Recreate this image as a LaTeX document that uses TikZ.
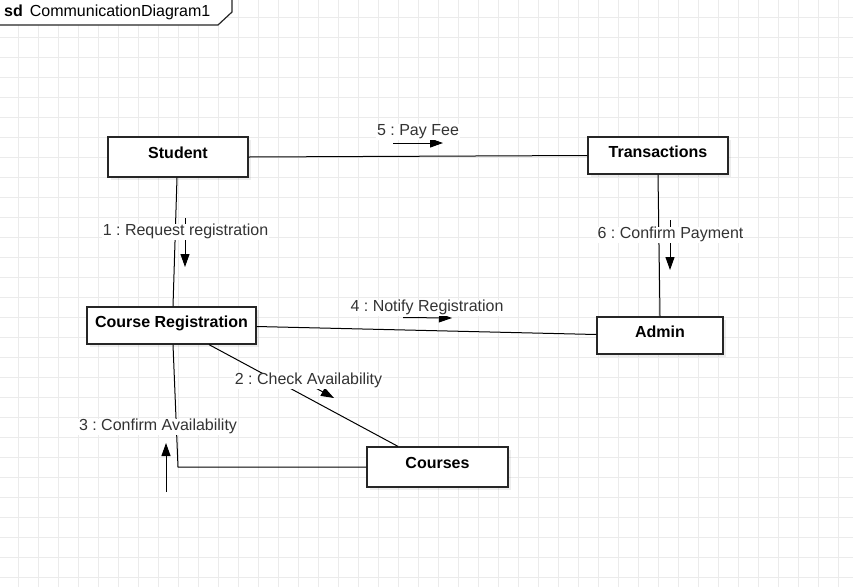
\documentclass[tikz,border=0pt]{standalone}
\usepackage{fontspec}
\setmainfont{Liberation Sans}
\usetikzlibrary{arrows.meta,positioning,shadows}
\frenchspacing

\tikzset{
  gridline/.style={draw=black!8,line width=1pt},
  objbox/.style={draw=black!85,line width=1.2pt,fill=white,font=\fontsize{16pt}{19pt}\selectfont\bfseries,
    inner sep=0pt,text height=12pt,text depth=9pt,
    drop shadow={shadow xshift=3pt,shadow yshift=-3pt,fill=black,opacity=0.07}},
  link/.style={draw=black,line width=1pt},
  msg/.style={draw=black,line width=1pt,-{Triangle[length=13pt,width=9pt]}},
  msglabel/.style={fill=white,text=black!80,inner sep=1pt,font=\fontsize{16pt}{19pt}\selectfont,
    text height=10pt,text depth=4pt}
}

\begin{document}
\begin{tikzpicture}[x=1pt,y=-1pt]
\useasboundingbox (0,0) rectangle (853,587);
\clip (0,0) rectangle (853,587);
\fill[white] (0,0) rectangle (853,587);

% grid
\foreach \x in {18,38,...,858} \draw[gridline] (\x,0) -- (\x,587);
\foreach \y in {17,37,...,577} \draw[gridline] (0,\y) -- (853,\y);

% objects
\node[objbox,minimum width=140pt,minimum height=40pt] (student) at (178,157) {Student};
\node[objbox,minimum width=140pt,minimum height=37pt] (trans) at (658,155.5) {Transactions};
\node[objbox,minimum width=169pt,minimum height=37pt] (coursereg) at (171.5,325.5) {Course Registration};
\node[objbox,minimum width=126pt,minimum height=37pt] (admin) at (660,335.5) {Admin};
\node[objbox,minimum width=141pt,minimum height=40pt] (courses) at (437.5,467) {Courses};
\coordinate (elbow) at (178,467);

% links
\draw[link] (student.east) -- (trans.west);
\draw[link] ([xshift=-1pt]student.south) -- ([xshift=1.5pt]coursereg.north);
\draw[link] (trans.south) -- (admin.north);
\draw[link] ([yshift=-1pt]coursereg.east) -- ([yshift=1pt]admin.west);
\draw[link] ([xshift=37.5pt]coursereg.south) -- ([xshift=-39.5pt]courses.north);
\draw[link] ([xshift=1.5pt]coursereg.south) -- (elbow) -- (courses.west);

% messages
\draw[msg] (393,143) -- ++(50,0);
\draw[msg] (185,218) -- ++(0,49);
\draw[msg] (670,220) -- ++(0,50);
\draw[msg] (403,317.5) -- ++(49,0.5);
\draw[msg] (290,374) -- (334,398);
\draw[msg] (166,492) -- ++(0,-49);

\node[msglabel] (m5) at (418,132) {5 : Pay Fee};
\node[msglabel] (m1) at (185.5,232) {1 : Request registration};
\node[msglabel] (m6) at (670.5,235) {6 : Confirm Payment};
\node[msglabel] (m4) at (427,308) {4 : Notify Registration};
\node[msglabel] (m2) at (308.5,381) {2 : Check Availability};
\node[msglabel] (m3) at (158,427) {3 : Confirm Availability};

% frame
\draw[line width=1.2pt,draw=black!85,fill=white] (-2,-2) -- (232,-2) -- (232,12) -- (218,25) -- (-2,25) -- cycle;
\node[anchor=west,inner sep=0pt,font=\fontsize{16pt}{19pt}\selectfont] (frame) at (4,12.5) {\textbf{sd}\hspace{7pt}CommunicationDiagram1};
\end{tikzpicture}
\end{document}
